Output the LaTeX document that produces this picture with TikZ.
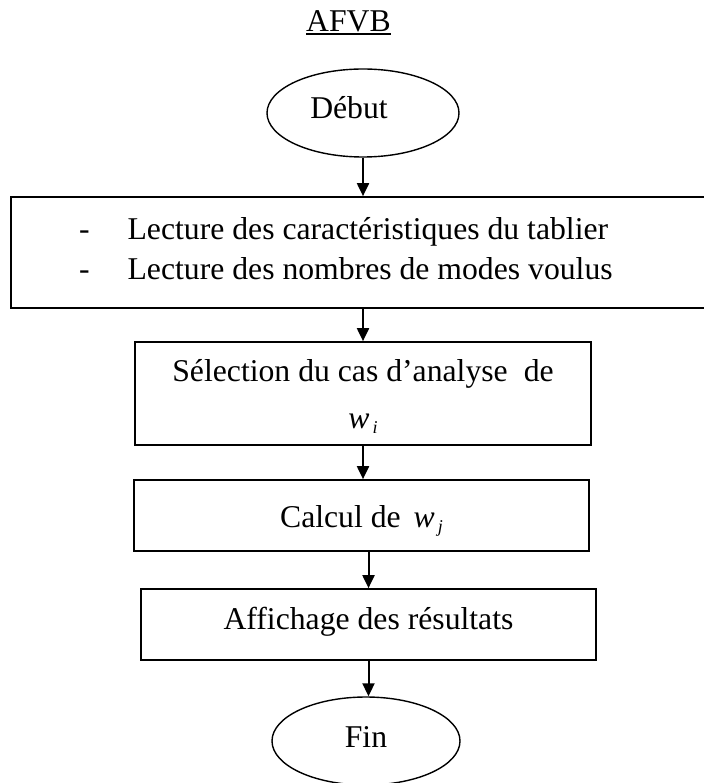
\documentclass[tikz,border=0pt]{standalone}
\usepackage{fontspec}
\setmainfont{Liberation Serif}
\usetikzlibrary{arrows.meta,shapes.geometric}
\newcommand{\wsub}[1]{\textit{w}\kern3pt\raisebox{-5pt}{\fontsize{18pt}{18pt}\selectfont\textit{#1}}}
\newcommand{\bxt}[5]{\parbox[c][#2][t]{#1}{#4\rule{0pt}{#3}#5}}
\tikzset{
  txt/.style={font=\fontsize{31.7pt}{41pt}\selectfont},
  box/.style={txt, draw, line width=1.7pt, inner sep=0pt},
  term/.style={txt, draw, ellipse, line width=1.4pt, inner sep=0pt,
    minimum height=88pt, text height=21pt, text depth=9pt},
  arr/.style={line width=2pt, -{Triangle[length=13pt,width=12pt]}}
}
\begin{document}
\begin{tikzpicture}[x=1pt,y=-1pt]
\useasboundingbox (0,0) rectangle (703,783);
% title
\node[txt, inner sep=0pt, anchor=base] (title) at (348.5,32) {AFVB};
\draw[line width=1.5pt] ([yshift=-2pt]title.base west) -- ([yshift=-2pt]title.base east);
% terminals
\node[term, minimum width=192pt] (debut) at (363,113) {Début\kern28pt\null};
\node[term, minimum width=188pt] (fin) at (366,741) {Fin};
% boxes
\node[box] (r1) at (358.5,252.5) {\bxt{695pt}{111pt}{42pt}{\raggedright}{%
  \hspace*{68pt}\makebox[48.6pt][l]{-}Lecture des caractéristiques du tablier\\
  \hspace*{68pt}\makebox[48.6pt][l]{-}Lecture des nombres de modes voulus}};
\node[box] (r2) at (363,393.5) {\bxt{456pt}{103pt}{39pt}{\centering\fontsize{31.7pt}{47pt}\selectfont}{%
  Sélection du cas d’analyse\hspace{16pt}de\\ \wsub{i}}};
\node[box] (r3) at (361.5,515.5) {\bxt{455pt}{71pt}{47pt}{\centering}{Calcul de\hspace{13pt}\wsub{j}}};
\node[box] (r4) at (368.5,624.5) {\bxt{455pt}{71pt}{40pt}{\centering}{Affichage des résultats}};
% connectors
\draw[arr] (debut.south) -- (debut.south |- r1.north);
\draw[arr] (r2.north |- r1.south) -- (r2.north);
\draw[arr] (r2.south) -- (r2.south |- r3.north);
\draw[arr] (r4.north |- r3.south) -- (r4.north);
\draw[arr] (r4.south) -- (r4.south |- fin.north);
\end{tikzpicture}
\end{document}
